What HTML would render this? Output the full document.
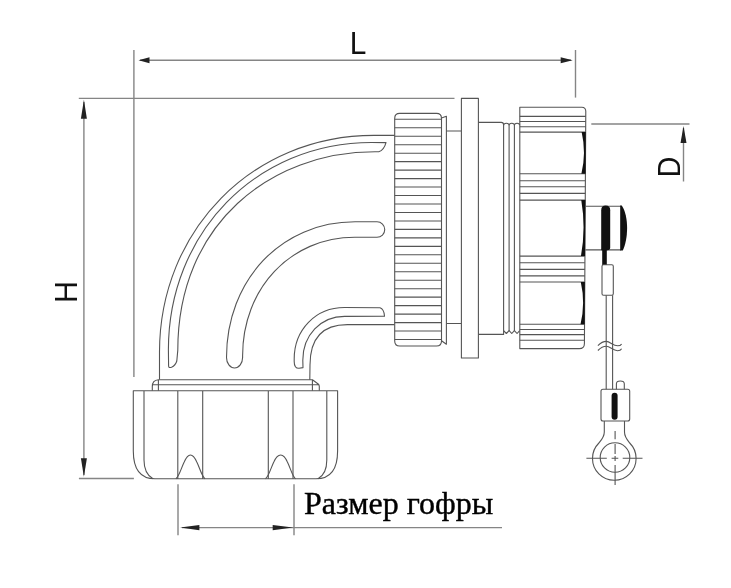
<!DOCTYPE html>
<html><head><meta charset="utf-8">
<style>
html,body{margin:0;padding:0;background:#fff;width:731px;height:588px;overflow:hidden}
svg{display:block;filter:grayscale(100%)}
</style></head>
<body>
<svg width="731" height="588" viewBox="0 0 731 588">
<rect width="731" height="588" fill="#fff"/>
<g stroke="#858585" stroke-width="1.4" fill="none">
<line x1="133.9" y1="50" x2="133.9" y2="377"/>
<line x1="575.5" y1="50" x2="575.5" y2="97.6"/>
<line x1="140" y1="60.2" x2="571" y2="60.2"/>
<line x1="78.8" y1="98.4" x2="454.5" y2="98.4"/>
<line x1="78.9" y1="478.5" x2="133.9" y2="478.5"/>
<line x1="83.9" y1="102" x2="83.9" y2="475"/>
<line x1="591.3" y1="124" x2="689.5" y2="124"/>
<line x1="683.5" y1="128" x2="683.5" y2="181.5"/>
<line x1="178" y1="484.2" x2="178" y2="535.2"/>
<line x1="294" y1="484.2" x2="294" y2="535.2"/>
<line x1="182" y1="527.6" x2="502" y2="527.6"/>
</g>
<g fill="#222" stroke="none">
<path d="M138.5,60.2 L149.5,57.2 L149.5,63.2 Z"/>
<path d="M572.7,60.2 L560.7,57.2 L560.7,63.2 Z"/>
<path d="M83.9,99.8 L80.9,118.8 L86.9,118.8 Z"/>
<path d="M83.9,476.8 L80.9,458.3 L86.9,458.3 Z"/>
<path d="M683.5,126 L680.5,143 L686.5,143 Z"/>
<path d="M180.1,527.6 L199.4,525 L199.4,530.2 Z"/>
<path d="M293,527.6 L272.7,525 L272.7,530.2 Z"/>
</g>
<g font-family="'Liberation Sans', sans-serif" fill="#111">
<text transform="translate(349.7,54.2) scale(0.97,1)" font-size="30.8">L</text>
<text transform="translate(76.5,303) rotate(-90)" font-size="30.6">H</text>
<text transform="translate(680.3,177.3) rotate(-90) scale(0.92,1)" font-size="31">D</text>
</g>
<text x="304" y="514" font-family="'Liberation Serif', serif" font-size="32" fill="#000" stroke="#000" stroke-width="0.4">Размер гофры</text>
<g stroke="#555" stroke-width="1.1" fill="none" stroke-linejoin="round">
<path d="M394.7,135.4 L374,135.4 C252,135.4 159.5,231 159.5,352 L159.5,379.6"/>
<path d="M386,142.6 L371.6,142.5 C255.9,142.5 168.4,233.4 168.4,349.7 L168.6,366 Q168.6,368.2 171.5,367.3 Q175.5,365.5 176.8,361 L177.8,350.1 C177.8,223.5 271.1,151.8 375,151.8 L378.8,151.8 Q384,150 386,142.6 Z"/>
<path d="M377,221.8 L355.1,221.8 C281,221.8 226.5,280.2 226.5,357.6 A8.05,10.4 0 0 0 242.6,357.6 L242.6,355.7 C242.6,288.7 290.2,237.3 354.8,237.3 L377,237.3 A7.75,7.75 0 0 0 377,221.8 Z"/>
<path d="M380,307.8 L344.5,307.5 C315.5,307.5 294.2,329.8 294.2,358.9 L294.2,361.5 Q294.2,368.5 299,368.3 L303,367.6 L302.8,360.2 C302.8,335.3 320.7,316.4 344.6,316.4 L384.5,316.2 Q384,309 380,307.8 Z"/>
<path d="M394.4,324.6 L347.4,324.6 C322.7,324.6 310,337.8 310,365.1 L309.8,379.7"/>
<path d="M152.3,390.7 V386.5 Q152.3,380.2 158.4,379.7 H312.4 L318.2,384 Q319.3,385 319.3,386.5 V390.7 M153,384.7 H318.8 M158.4,379.7 V390.7 M312.4,379.7 V390.7"/>
<path d="M133.3,390.7 V451 C133.3,470 141,478.8 155,478.8 H316 C330,478.8 337.6,470 337.6,451 V390.7 Z"/>
<path d="M144,391 V460 C144,470 148,476 153,478.8"/>
<path d="M326.8,391 V460 C326.8,470 323,476 318,478.8"/>
<path d="M177.8,391 V479 M202.7,391 V479 M268.3,391 V479 M293,391 V479"/>
<path d="M175.9,478.8 C179.4,476 181.2,468 184.2,462 C186.2,457.5 187.8,455 190.4,455 C193,455 194.8,457.5 196.8,462 C199.8,468 201.6,476 205,478.8"/>
<path d="M265.5,478.8 C269,476 270.8,468 273.8,462 C275.8,457.5 277.4,455 280.7,455 C283.6,455 285.4,457.5 287.4,462 C290.4,468 292.2,476 295.5,478.8"/>
<path d="M394.7,118.4 Q394.7,113.4 399.7,113.4 L436.5,113.4 Q441.5,113.4 441.5,118.4 L441.5,341 Q441.5,346 436.5,346 L399.7,346 Q394.7,346 394.7,341 Z"/>
<path d="M394.7,119.30 H441.5 M394.7,127.77 H441.5 M394.7,136.24 H441.5 M394.7,144.71 H441.5 M394.7,153.18 H441.5 M394.7,161.65 H441.5 M394.7,170.12 H441.5 M394.7,178.59 H441.5 M394.7,187.06 H441.5 M394.7,195.53 H441.5 M394.7,204.00 H441.5 M394.7,212.47 H441.5 M394.7,220.94 H441.5 M394.7,229.41 H441.5 M394.7,237.88 H441.5 M394.7,246.35 H441.5 M394.7,254.82 H441.5 M394.7,263.29 H441.5 M394.7,271.76 H441.5 M394.7,280.23 H441.5 M394.7,288.70 H441.5 M394.7,297.17 H441.5 M394.7,305.64 H441.5 M394.7,314.11 H441.5 M394.7,322.58 H441.5 M394.7,331.05 H441.5 M394.7,339.52 H441.5 "/>
<path d="M441.5,118 L446.4,116.2 L446.4,344.3 L441.5,340.7"/>
<path d="M446.4,131 H461 M446.4,323.5 H461"/>
<rect x="461.4" y="98.4" width="17" height="259.6"/>
<path d="M478.4,122.4 L501.3,122.4 Q503.6,122.4 503.6,125 L503.6,334.4 L478.4,334.4"/>
<path d="M509.1,125 V331 M514.4,125 V331"/>
<path d="M503.6,125.3 Q503.6,123.2 506.35,123.2 Q509.1,123.2 509.1,125.3 M509.1,125.3 Q509.1,123.2 511.75,123.2 Q514.4,123.2 514.4,125.3 M514.4,125.3 Q514.4,123.2 517.05,123.2 Q519.7,123.2 519.7,125.3 "/>
<path d="M503.6,330.6 L506.35,333.5 L509.1,330.6 L511.75,333.5 L514.4,330.6 L517.05,333.5 L519.7,330.6"/>
<path d="M519.8,107.3 L581.8,107.3 Q585.80,107.3 585.78,111.3 L584.43,343.4 Q584.40,348.6 579.2,348.6 L519.8,348.6 Z"/>
<path d="M519.8,116.4 H585.75 M519.8,121.5 H585.72 M519.8,126.8 H585.69 M519.8,132.1 H585.66 M519.8,173.8 H585.41 M519.8,180.7 H585.37 M519.8,186.8 H585.34 M519.8,193.4 H585.30 M519.8,200.1 H585.26 M519.8,256.1 H584.94 M519.8,262.7 H584.90 M519.8,269.4 H584.86 M519.8,275.9 H584.82 M519.8,282 H584.79 M519.8,324.2 H584.54 M519.8,329.5 H584.51 M519.8,334.6 H584.48 M519.8,340.3 H584.45 "/>
</g>
<g fill="#111" stroke="none">
<path d="M581.66,132.1 L585.76,132.1 L585.51,173.8 L581.41,173.8 Q586.44,152.95 581.66,132.1 Z"/>
<path d="M581.26,200.1 L585.36,200.1 L585.04,256.1 L580.94,256.1 Q586.00,228.10000000000002 581.26,200.1 Z"/>
<path d="M580.79,282 L584.89,282 L584.64,324.2 L580.54,324.2 Q585.56,303.1 580.79,282 Z"/>
</g>
<g stroke="#555" stroke-width="1.1" fill="none">
<path d="M585.5,206.2 L621,206.2 M585.3,249.9 L621,249.9"/>
</g>
<g fill="#111" stroke="none">
<path d="M620.2,205.5 L621.8,205.5 C625.4,211 627.1,219 627.1,228 C627.1,237 625.4,245 622.8,250.5 L620.2,250.5 Z"/>
<path d="M601.2,250.2 V210.2 Q601.2,205.6 605.7,205.6 Q610.2,205.6 610.2,210.2 V247.5 Q610.2,250.2 607.5,250.2 Z"/>
<rect x="602.2" y="245" width="4.6" height="20"/>
<rect x="611.6" y="392.8" width="6" height="27" rx="3"/>
</g>
<g stroke="#555" stroke-width="1.1" fill="none">
<rect x="602" y="264.7" width="11.3" height="30.6" rx="1.5"/>
<path d="M606.2,295.3 V389.2 M612.6,295.3 V389.2"/>
<path d="M597.9,345.6 C601,342.5 604,341.4 606.3,341.4 C610,341.4 613,345.8 617.6,345.8 C619.5,345.8 621,345 621.6,343.9"/>
<path d="M597.9,350.5 C601,347.4 604,346.3 606.3,346.3 C610,346.3 613,350.7 617.6,350.7 C619.5,350.7 621,349.9 621.6,348.8"/>
<path d="M616.4,389.2 L616.4,383.8 Q616.4,381 620.3,381 Q624.3,381 624.3,383.8 L624.3,389.2"/>
<rect x="601" y="389.2" width="28.7" height="31.8" rx="2"/>
<path d="M604.3,421 V432 C604.3,437 601.5,440 598.9,443 A21.8,21.8 0 1 0 629.7,443 C627.2,440 624.5,437 624.5,432 V421"/>
<circle cx="615" cy="457.5" r="14.8"/>
<path d="M586.4,458.2 H606.8 M611.6,458.2 H618.3 M622.7,458.2 H642.5"/>
<path d="M615.1,431 V439.2 M615.1,444 V454 M615.1,456 V461 M615.1,465 V485"/>
</g>
</svg>
</body></html>
